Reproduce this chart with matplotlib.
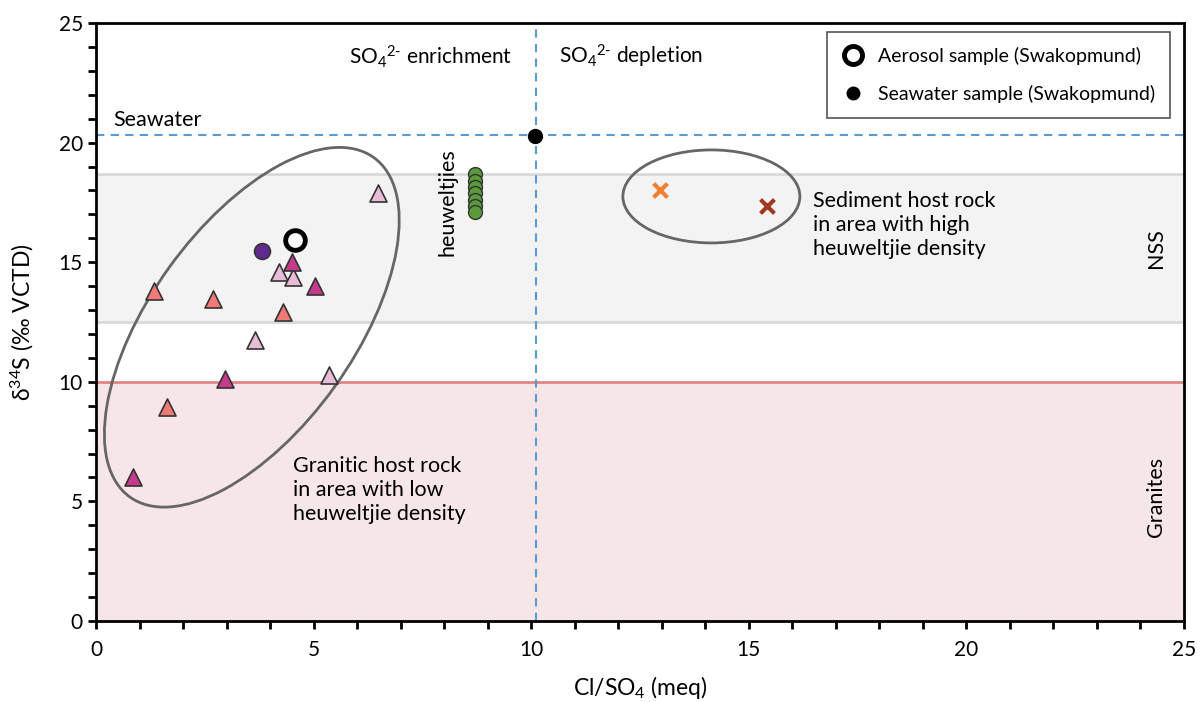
import matplotlib
matplotlib.use("Agg")
import matplotlib.pyplot as plt
from matplotlib.patches import Ellipse
from matplotlib.transforms import ScaledTranslation
from matplotlib.lines import Line2D
from matplotlib.ticker import MultipleLocator

plt.rcParams['font.family'] = ['Lato', 'DejaVu Sans']
plt.rcParams['mathtext.fontset'] = 'custom'
plt.rcParams['mathtext.rm'] = 'Lato'
plt.rcParams['mathtext.it'] = 'Lato:italic'
plt.rcParams['mathtext.bf'] = 'Lato:bold'

# ---------------- data ----------------
tri_magenta_x = [0.86, 2.97, 4.50, 5.03]
tri_magenta_y = [6.0, 10.1, 15.0, 14.0]
tri_salmon_x = [1.33, 1.64, 2.68, 4.30]
tri_salmon_y = [13.8, 8.95, 13.45, 12.9]
tri_light_x = [3.65, 4.21, 4.52, 5.35, 6.48]
tri_light_y = [11.75, 14.6, 14.4, 10.3, 17.9]
purple_x = [3.81]
purple_y = [15.47]
aerosol_x = [4.57]
aerosol_y = [15.93]
seawater_x = [10.09]
seawater_y = [20.28]
heuwel_x = [8.7, 8.7, 8.7, 8.7, 8.7, 8.7, 8.7]
heuwel_y = [18.7, 18.4, 18.15, 17.9, 17.6, 17.35, 17.1]
sed_orange_x = [12.96]
sed_orange_y = [18.02]
sed_brown_x = [15.42]
sed_brown_y = [17.35]

seawater_ref = 20.3
cl_so4_ref = 10.1
nss_band = (12.5, 18.7)
granite_max = 10.0

fig = plt.figure(figsize=(12, 7.02), dpi=100)
ax = fig.add_axes([96/1200, (702-621)/702, (1184-96)/1200, (621-23)/702])
ax.set_xlim(0, 25)
ax.set_ylim(0, 25)

# bands
ax.axhspan(nss_band[0], nss_band[1], color='#f3f3f3', zorder=0, lw=0)
ax.axhline(nss_band[0], color='#d9d9d9', lw=2, zorder=1)
ax.axhline(nss_band[1], color='#d9d9d9', lw=2, zorder=1)
ax.axhspan(0, granite_max, color='#f7e6e7', zorder=0, lw=0)
ax.axhline(granite_max, color='#e08585', lw=2, zorder=1)

# reference lines
ax.axhline(seawater_ref, color='#5b9bd5', lw=1.5, ls=(0, (4, 3)), zorder=2)
ax.axvline(cl_so4_ref, color='#5b9bd5', lw=1.5, ls=(0, (4, 3)), zorder=2)

# ellipses (sizes in pixels / 100 -> inches)
e1 = Ellipse((0, 0), 4.18, 2.04, angle=54.3, fill=False, ec='#666666', lw=2,
             transform=fig.dpi_scale_trans + ScaledTranslation(3.58, 12.28, ax.transData), zorder=3)
ax.add_patch(e1)
e2 = Ellipse((0, 0), 1.77, 0.93, angle=0, fill=False, ec='#666666', lw=2,
             transform=fig.dpi_scale_trans + ScaledTranslation(14.14, 17.75, ax.transData), zorder=3)
ax.add_patch(e2)

# points
tri_kw = dict(marker='^', s=150, edgecolors='#333333', linewidths=1.2, zorder=5)
ax.scatter(tri_salmon_x, tri_salmon_y, c='#f07a78', **tri_kw)
ax.scatter(tri_light_x, tri_light_y, c='#e6bcd7', **tri_kw)
ax.scatter(tri_magenta_x, tri_magenta_y, c='#c63a8e', **tri_kw)
ax.scatter(purple_x, purple_y, marker='o', s=130, c='#632a8e', edgecolors='#333333', linewidths=1.2, zorder=5)
ax.scatter(aerosol_x, aerosol_y, marker='o', s=200, facecolors='white', edgecolors='black', linewidths=3.5, zorder=6)
ax.scatter(seawater_x, seawater_y, marker='o', s=100, c='black', zorder=6)
ax.scatter(heuwel_x, heuwel_y, marker='o', s=100, c='#5a9a3a', edgecolors='#333333', linewidths=1.0, zorder=5)
ax.scatter(sed_orange_x, sed_orange_y, marker='x', s=100, c='#f28030', linewidths=3, zorder=5)
ax.scatter(sed_brown_x, sed_brown_y, marker='x', s=100, c='#a03820', linewidths=3, zorder=5)

# texts
fs = 15.5
ax.text(0.4, 20.95, 'Seawater', fontsize=fs, va='center', ha='left')
ax.text(5.81, 23.6, r'SO$_4$$^{2\text{-}}$ enrichment', fontsize=15, va='center', ha='left')
ax.text(10.64, 23.6, r'SO$_4$$^{2\text{-}}$ depletion', fontsize=15, va='center', ha='left')
ax.text(8.07, 17.5, 'heuweltjies', fontsize=fs, rotation=90, va='center', ha='center')
ax.text(24.36, 15.6, 'NSS', fontsize=fs, rotation=90, va='center', ha='center')
ax.text(24.36, 5.2, 'Granites', fontsize=fs, rotation=90, va='center', ha='center')
ax.text(16.47, 16.55, 'Sediment host rock\nin area with high\nheuweltjie density', fontsize=fs,
        va='center', ha='left', linespacing=1.25)
ax.text(4.53, 5.48, 'Granitic host rock\nin area with low\nheuweltjie density', fontsize=fs,
        va='center', ha='left', linespacing=1.25)

# axes styling
for s in ax.spines.values():
    s.set_linewidth(2)
    s.set_color('black')
ax.xaxis.set_major_locator(MultipleLocator(5))
ax.xaxis.set_minor_locator(MultipleLocator(1))
ax.yaxis.set_major_locator(MultipleLocator(5))
ax.yaxis.set_minor_locator(MultipleLocator(1))
ax.tick_params(which='both', direction='out', width=2, length=6, labelsize=15, color='black')
ax.tick_params(axis='x', pad=8)
ax.set_xlabel(r'Cl/SO$_4$ (meq)', fontsize=16.5, labelpad=10)
ax.set_ylabel(r'δ$^{34}$S (‰ VCTD)', fontsize=16.5, labelpad=16)

# legend
handles = [
    Line2D([], [], marker='o', ls='none', markersize=13, markerfacecolor='white',
           markeredgecolor='black', markeredgewidth=3.5),
    Line2D([], [], marker='o', ls='none', markersize=9, markerfacecolor='black',
           markeredgecolor='black'),
]
leg = ax.legend(handles, ['Aerosol sample (Swakopmund)', 'Seawater sample (Swakopmund)'],
                loc='upper right', bbox_to_anchor=(0.987, 0.985), fontsize=14,
                fancybox=False, edgecolor='#555555', framealpha=1, borderpad=0.75,
                labelspacing=1.05, handletextpad=0.7, handlelength=1.2, borderaxespad=0.0)
leg.get_frame().set_linewidth(1.2)

fig.savefig('out.png', dpi=100)
